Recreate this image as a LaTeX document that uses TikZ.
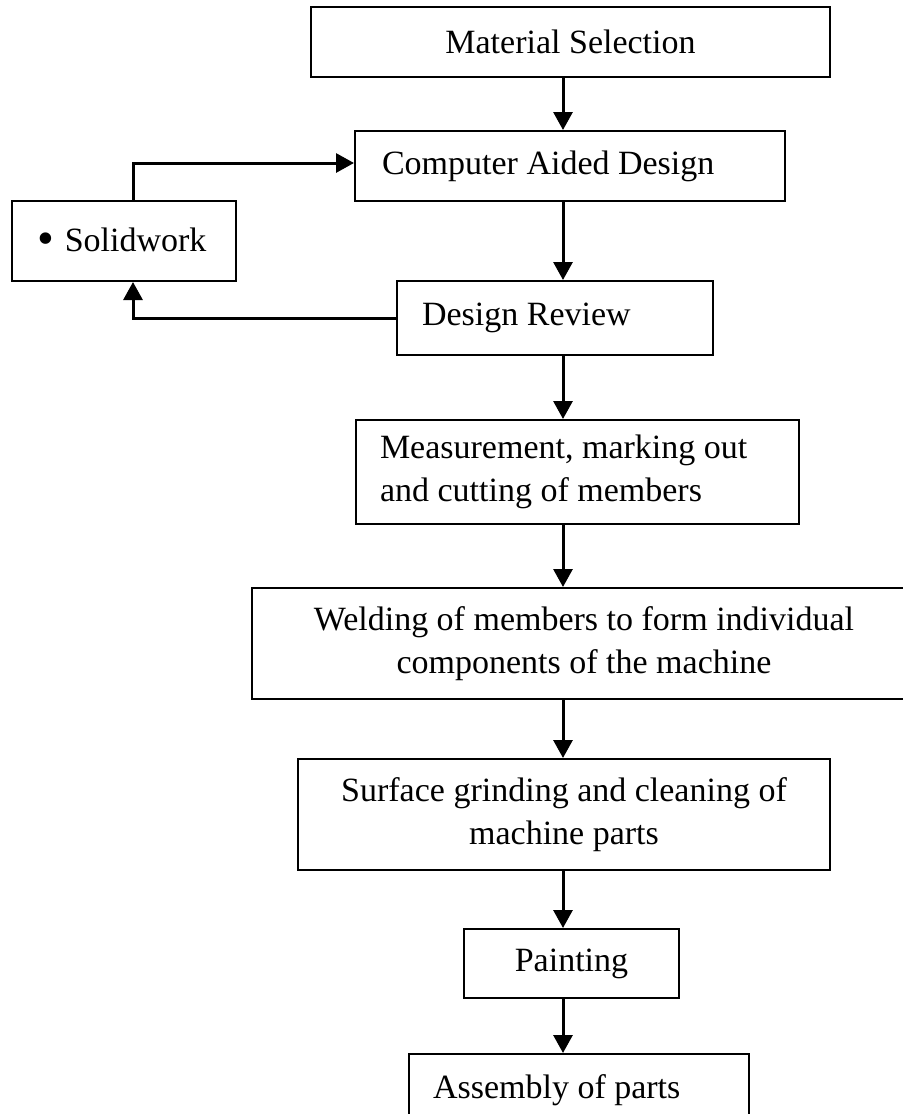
\documentclass[tikz,border=0pt]{standalone}
\usepackage{fontspec}
\setmainfont{Liberation Serif}
\usetikzlibrary{arrows.meta}

\begin{document}
\begin{tikzpicture}[%
    x=0.5pt, y=-0.5pt,
    >={Triangle[length=9pt,width=9.5pt]},
    font=\fontsize{17}{21.5}\selectfont,
    box/.style={draw, line width=1pt, rectangle, inner ysep=0pt},
    flow/.style={->, line width=1.5pt}
    ]

    \useasboundingbox (0,0) rectangle (903,1114);
    \clip (0,0) rectangle (903,1114);

    \coordinate (axis) at (563,0);
    \coordinate (side) at (133,0);

    \node[box, minimum width=259.5pt, minimum height=35pt] (mat) at (570.5,42) {Material Selection};
    \node[box, inner xsep=13.5pt, text width=188pt, align=flush left, minimum height=35pt] (cad) at (570,166) {Computer Aided Design};
    \node[box, inner xsep=13pt, text width=86pt, align=flush left, minimum height=40pt] (solid) at (124,241) {\raisebox{-1.5pt}{\fontsize{24}{24}\selectfont\textbullet}\hspace{5pt}Solidwork};
    \node[box, inner xsep=12.5pt, text width=133pt, align=flush left, minimum height=37pt] (rev) at (555,318) {Design Review};
    \node[box, inner xsep=12pt, text width=197.5pt, align=flush left, minimum height=52pt] (meas) at (577.5,472) {Measurement, marking out\\and cutting of members};
    \node[box, minimum width=332pt, minimum height=55.5pt, align=flush center] (weld) at (584,643.5) {Welding of members to form individual\\components of the machine};
    \node[box, minimum width=266pt, minimum height=55.5pt, align=flush center] (surf) at (564,814.5) {Surface grinding and cleaning of\\machine parts};
    \node[box, minimum width=107.5pt, minimum height=34.5pt] (paint) at (571.5,963.5) {Painting};
    \node[box, inner xsep=12pt, text width=146pt, align=flush left, minimum height=36pt] (asm) at (579,1090) {Assembly of parts};

    \path[flow] (mat.south -| axis) edge (cad.north -| axis);
    \path[flow] (cad.south -| axis) edge (rev.north -| axis);
    \path[flow] (rev.south -| axis) edge (meas.north -| axis);
    \path[flow] (meas.south -| axis) edge (weld.north -| axis);
    \path[flow] (weld.south -| axis) edge (surf.north -| axis);
    \path[flow] (surf.south -| axis) edge (paint.north -| axis);
    \path[flow] (paint.south -| axis) edge (asm.north -| axis);

    % loop through the CAD tool
    \draw[flow] (solid.north -| side) |- ([yshift=1.5pt]cad.west);
    \draw[flow] (rev.west) -| (solid.south -| side);

\end{tikzpicture}
\end{document}
